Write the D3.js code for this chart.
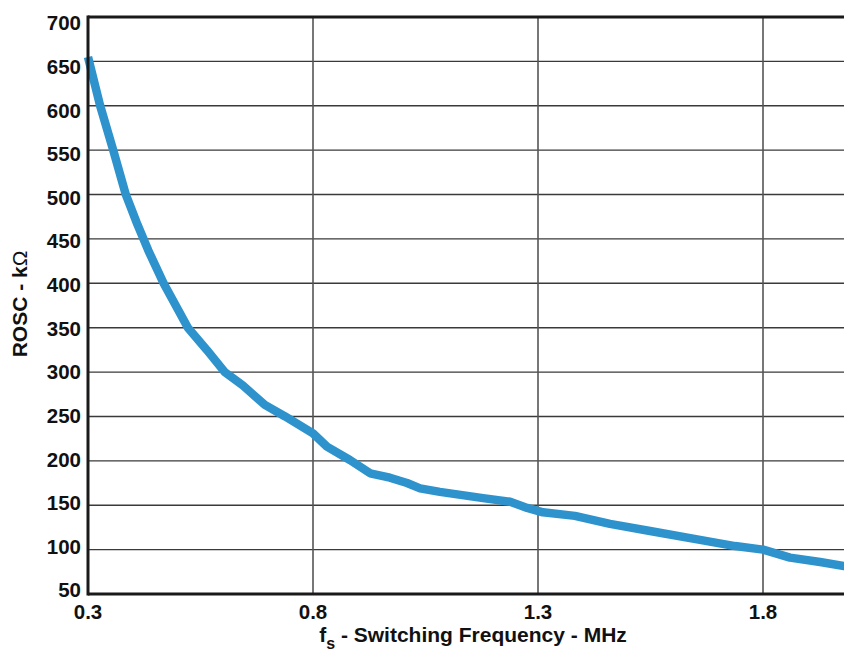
<!DOCTYPE html>
<html><head><meta charset="utf-8">
<script src="https://cdn.jsdelivr.net/npm/d3@7"></script>
<style>body{margin:0;background:#fff}svg{display:block}text{font-family:"Liberation Sans",Arial,sans-serif;font-weight:bold;fill:#111}</style>
</head><body><svg id="c" width="844" height="659"></svg>
<script>
const freqMHz = [0.3,0.327,0.356,0.384,0.41,0.434,0.468,0.522,0.564,0.604,0.644,0.693,0.738,0.8,0.831,0.882,0.927,0.971,1.009,1.038,1.082,1.178,1.238,1.276,1.311,1.382,1.46,1.549,1.66,1.738,1.8,1.86,1.927,1.98,2.02];
const roscK = [655,600,550,500,466,437,400,350,325,300,285,263,250,231,216,201,186,181,175,169,165,158,154,147,142,138,129,121,111,104,100,91,86,81.5,79];
const yTicks = [50,100,150,200,250,300,350,400,450,500,550,600,650,700];
const xTicks = [0.3,0.8,1.3,1.8];
const xTitle = ["f","s"," - Switching Frequency - MHz"];
const yTitle = ["ROSC - k","Ω"];

const svg = d3.select("#c");
const L=88, T=17, B=594;
const x = d3.scaleLinear().domain([0.3,1.8]).range([L,763]);
const y = d3.scaleLinear().domain([50,700]).range([B,T]);
const yLab = d3.scaleLinear().domain([50,700]).range([590,23]);
const R = 900;

// horizontal grid
svg.append("g").selectAll("line").data(yTicks.filter(d=>d!==50&&d!==700)).join("line")
 .attr("x1",L).attr("x2",R).attr("y1",d=>y(d)).attr("y2",d=>y(d))
 .attr("stroke","#3a3a3a").attr("stroke-width",1.4);
// vertical grid
svg.append("g").selectAll("line").data(xTicks.filter(d=>d!==0.3)).join("line")
 .attr("x1",d=>x(d)).attr("x2",d=>x(d)).attr("y1",T).attr("y2",B)
 .attr("stroke","#555").attr("stroke-width",1.6);

// curve
const line = d3.line().x((d,i)=>x(freqMHz[i])).y(d=>y(d)).curve(d3.curveLinear);
svg.append("path").datum(roscK).attr("d",line).attr("fill","none")
 .attr("stroke","#2e93cc").attr("stroke-width",8.5).attr("stroke-linejoin","round").attr("stroke-linecap","butt");

// frame
svg.append("line").attr("x1",L).attr("x2",R).attr("y1",T).attr("y2",T).attr("stroke","#1a1a1a").attr("stroke-width",3);
svg.append("line").attr("x1",L).attr("x2",R).attr("y1",B).attr("y2",B).attr("stroke","#1a1a1a").attr("stroke-width",3);
svg.append("line").attr("x1",L).attr("x2",L).attr("y1",T-1.5).attr("y2",B+1.5).attr("stroke","#1a1a1a").attr("stroke-width",3);

// tick labels
svg.append("g").selectAll("text").data(yTicks).join("text")
 .attr("x",81).attr("y",d=>yLab(d)).attr("dy","0.36em").attr("text-anchor","end")
 .attr("font-size",20.5).text(d=>d);
svg.append("g").selectAll("text").data(xTicks).join("text")
 .attr("x",d=>x(d)).attr("y",619).attr("text-anchor","middle")
 .attr("font-size",20.5).text(d=>d.toFixed(1));

// axis titles
const xt = svg.append("text").attr("x",473).attr("y",642).attr("text-anchor","middle").attr("font-size",21);
xt.append("tspan").text(xTitle[0]);
xt.append("tspan").attr("dy",7).attr("font-size",16).text(xTitle[1]);
xt.append("tspan").attr("dy",-7).text(xTitle[2]);
const yt = svg.append("text").attr("transform","translate(27,304) rotate(-90)").attr("text-anchor","middle").attr("font-size",21);
yt.append("tspan").text(yTitle[0]);
yt.append("tspan").attr("font-weight","normal").text(yTitle[1]);
</script></body></html>
